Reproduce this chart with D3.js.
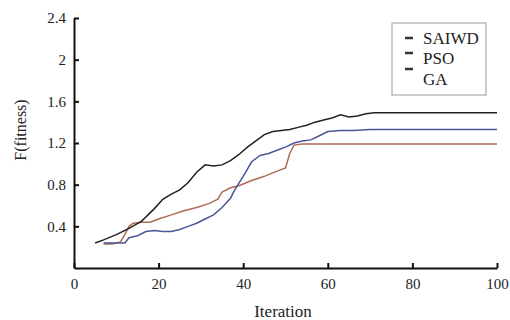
<!DOCTYPE html>
<html>
<head>
<meta charset="utf-8">
<script src="https://cdn.jsdelivr.net/npm/d3@7"></script>
<style>
  body { margin: 0; background: #fff; }
</style>
</head>
<body>
<div id="chart"></div>
<script>
// data
const saiwdX = [5, 7, 10, 13, 16, 19, 21, 23, 25, 27, 29, 31, 33, 35, 37, 39, 41, 43, 45, 47, 49, 51, 53, 55, 57, 59, 61, 63, 65, 67, 69, 71, 100];
const saiwdY = [0.24, 0.27, 0.32, 0.38, 0.45, 0.57, 0.66, 0.71, 0.75, 0.82, 0.92, 0.99, 0.98, 0.99, 1.03, 1.09, 1.16, 1.22, 1.28, 1.31, 1.32, 1.33, 1.35, 1.37, 1.40, 1.42, 1.44, 1.47, 1.45, 1.46, 1.48, 1.49, 1.49];

const psoX = [7, 9, 12, 13, 15, 17, 19, 21, 23, 25, 27, 29, 31, 33, 35, 37, 38, 40, 42, 44, 46, 48, 50, 52, 54, 56, 58, 60, 63, 66, 70, 100];
const psoY = [0.24, 0.24, 0.24, 0.29, 0.31, 0.35, 0.36, 0.35, 0.35, 0.37, 0.40, 0.43, 0.47, 0.51, 0.58, 0.67, 0.75, 0.88, 1.02, 1.08, 1.10, 1.13, 1.16, 1.20, 1.22, 1.23, 1.27, 1.31, 1.32, 1.32, 1.33, 1.33];

const gaX = [7, 9, 11, 12, 13, 14, 16, 18, 20, 23, 26, 29, 32, 34, 35, 37, 39, 42, 45, 48, 50, 51, 52, 54, 100];
const gaY = [0.23, 0.23, 0.25, 0.32, 0.40, 0.43, 0.44, 0.44, 0.47, 0.51, 0.55, 0.58, 0.62, 0.66, 0.73, 0.77, 0.79, 0.84, 0.88, 0.93, 0.96, 1.10, 1.18, 1.19, 1.19];

const xTicks = [0, 20, 40, 60, 80, 100];
const yTicks = [0.4, 0.8, 1.2, 1.6, 2, 2.4];
const seriesNames = ["SAIWD", "PSO", "GA"];
const colors = ["#222222", "#4a5796", "#b06a55"];

const serif = "'Liberation Serif', 'Times New Roman', serif";
const W = 510, H = 320;
const svg = d3.select("#chart").append("svg")
  .attr("width", W).attr("height", H);

const x = d3.scaleLinear().domain([0, 100]).range([74, 497]);
const y = d3.scaleLinear().domain([0, 2.4]).range([268, 18]);

// lines
const series = [
  saiwdX.map((v, i) => [v, saiwdY[i]]),
  psoX.map((v, i) => [v, psoY[i]]),
  gaX.map((v, i) => [v, gaY[i]])
];
const line = d3.line().x(d => x(d[0])).y(d => y(d[1]));
// GA and PSO first, SAIWD on top
[2, 1, 0].forEach(i => {
  svg.append("path")
    .attr("d", line(series[i]))
    .attr("fill", "none")
    .attr("stroke", colors[i])
    .attr("stroke-width", 1.5);
});

// axes
const xAxis = d3.axisBottom(x).tickValues(xTicks).tickSizeInner(-5).tickSizeOuter(0).tickPadding(10);
const yAxis = d3.axisLeft(y).tickValues(yTicks).tickFormat(d => String(d)).tickSizeInner(-5).tickSizeOuter(0).tickPadding(8);

const gx = svg.append("g").attr("transform", "translate(0,268)").call(xAxis);
const gy = svg.append("g").attr("transform", "translate(74,0)").call(yAxis);
[gx, gy].forEach(g => {
  g.attr("font-family", null);
  g.select(".domain").attr("stroke", "#111").attr("stroke-width", 2);
  g.selectAll(".tick line").attr("stroke", "#111").attr("stroke-width", 2);
  g.selectAll("text").style("font-family", serif).style("font-size", "15px").attr("fill", "#222");
});

// axis titles
svg.append("text")
  .attr("x", 283).attr("y", 317)
  .attr("text-anchor", "middle")
  .style("font-family", serif).style("font-size", "17px")
  .attr("fill", "#222")
  .text("Iteration");

svg.append("text")
  .attr("transform", "translate(26,130) rotate(-90)")
  .attr("text-anchor", "middle")
  .style("font-family", serif).style("font-size", "16px")
  .attr("fill", "#222")
  .text("F(fitness)");

// legend
const lg = svg.append("g");
lg.append("rect")
  .attr("x", 392).attr("y", 23).attr("width", 94).attr("height", 72)
  .attr("fill", "#fff").attr("stroke", "#999").attr("stroke-width", 1);
const dashY = [38, 53, 69];
const textY = [38, 58, 79];
seriesNames.forEach((name, i) => {
  lg.append("line")
    .attr("x1", 405).attr("x2", 413)
    .attr("y1", dashY[i]).attr("y2", dashY[i])
    .attr("stroke", "#333").attr("stroke-width", 2.5);
  lg.append("text")
    .attr("x", 423).attr("y", textY[i])
    .attr("dy", "0.35em")
    .style("font-family", serif).style("font-size", "17px")
    .attr("fill", "#222")
    .text(name);
});
</script>
</body>
</html>
